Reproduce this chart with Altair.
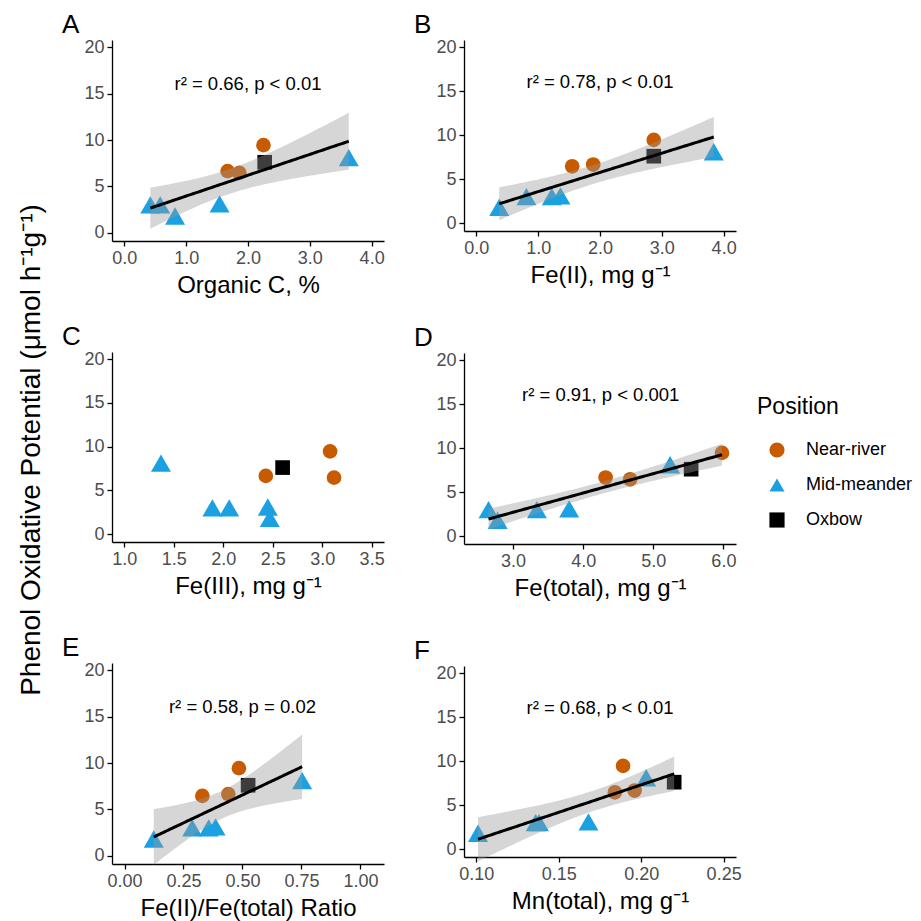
import altair as alt
import numpy as np
import pandas as pd

FONT = "Liberation Sans"

# ---- data ----
positions = ["Near-river", "Near-river", "Near-river",
             "Mid-meander", "Mid-meander", "Mid-meander", "Mid-meander", "Mid-meander",
             "Oxbow"]
pop = [9.45, 6.65, 6.45, 8.1, 3.0, 3.0, 3.1, 1.8, 7.6]

organic_c = [2.25, 1.67, 1.86, 3.63, 0.42, 0.58, 1.54, 0.82, 2.27]
fe2 = [2.87, 1.89, 1.55, 3.84, 0.81, 1.22, 1.36, 0.37, 2.87]
fe3 = [3.08, 2.43, 3.12, 1.37, 1.89, 2.06, 2.45, 2.47, 2.60]
fe_total = [5.98, 4.32, 4.67, 5.24, 2.65, 3.34, 3.80, 2.78, 5.54]
fe_ratio = [0.485, 0.44, 0.33, 0.753, 0.287, 0.357, 0.386, 0.124, 0.524]
mn_total = [0.189, 0.196, 0.184, 0.203, 0.136, 0.138, 0.168, 0.101, 0.220]

position_levels = ["Near-river", "Mid-meander", "Oxbow"]
position_colors = ["#C85A00", "#1BA1E2", "#000000"]
position_shapes = ["circle", "triangle-up", "square"]
position_sizes = [215, 400, 215]

y_ticks = [0, 5, 10, 15, 20]
y_domain = [-0.9, 20.8]

panels = [
    dict(letter="A", x=organic_c, title="Organic C, %", domain=[-0.2, 4.2],
         ticks=[0, 1, 2, 3, 4], fmt=".1f", label_x=2.0,
         label="r² = 0.66, p < 0.01", fit=True, height=201),
    dict(letter="B", x=fe2, title="Fe(II), mg g⁻¹", domain=[-0.2, 4.2],
         ticks=[0, 1, 2, 3, 4], fmt=".1f", label_x=2.0,
         label="r² = 0.78, p < 0.01", fit=True, height=191),
    dict(letter="C", x=fe3, title="Fe(III), mg g⁻¹", domain=[0.875, 3.625],
         ticks=[1.0, 1.5, 2.0, 2.5, 3.0, 3.5], fmt=".1f", label_x=None,
         label=None, fit=False, height=190),
    dict(letter="D", x=fe_total, title="Fe(total), mg g⁻¹", domain=[2.3, 6.18],
         ticks=[3, 4, 5, 6], fmt=".1f", label_x=4.25,
         label="r² = 0.91, p < 0.001", fit=True, height=191),
    dict(letter="E", x=fe_ratio, title="Fe(II)/Fe(total) Ratio", domain=[-0.053, 1.1],
         ticks=[0, 0.25, 0.5, 0.75, 1.0], fmt=".2f", label_x=0.5,
         label="r² = 0.58, p = 0.02", fit=True, height=201),
    dict(letter="F", x=mn_total, title="Mn(total), mg g⁻¹", domain=[0.0925, 0.2575],
         ticks=[0.10, 0.15, 0.20, 0.25], fmt=".2f", label_x=0.175,
         label="r² = 0.68, p < 0.01", fit=True, height=191),
]

T_CRIT = 2.364624  # t(0.975, df=7)


def lm_band(x, y):
    x = np.asarray(x, float)
    y = np.asarray(y, float)
    n = len(x)
    b1, b0 = np.polyfit(x, y, 1)
    resid = y - (b0 + b1 * x)
    s = np.sqrt(np.sum(resid ** 2) / (n - 2))
    xm = x.mean()
    sxx = np.sum((x - xm) ** 2)
    xs = np.linspace(x.min(), x.max(), 80)
    yh = b0 + b1 * xs
    se = s * np.sqrt(1.0 / n + (xs - xm) ** 2 / sxx)
    return pd.DataFrame({"x": xs, "fit": yh, "lo": yh - T_CRIT * se, "hi": yh + T_CRIT * se})


def make_panel(p):
    df = pd.DataFrame({"x": p["x"], "pop": pop, "Position": positions})
    xscale = alt.Scale(domain=p["domain"], nice=False, zero=False)
    yscale = alt.Scale(domain=y_domain, nice=False, zero=False)
    xaxis = alt.Axis(values=p["ticks"], format=p["fmt"], title=p["title"])
    yaxis = alt.Axis(values=y_ticks, format="d")

    layers = []
    for lvl, sz in zip(position_levels, position_sizes):
        pts = alt.Chart(df).transform_filter(
            alt.datum.Position == lvl
        ).mark_point(filled=True, opacity=1, strokeWidth=0, size=sz).encode(
            x=alt.X("x:Q", scale=xscale, axis=xaxis),
            y=alt.Y("pop:Q", scale=yscale, axis=yaxis, title=None),
            color=alt.Color("Position:N",
                            scale=alt.Scale(domain=position_levels, range=position_colors),
                            legend=alt.Legend(title="Position")),
            shape=alt.Shape("Position:N",
                            scale=alt.Scale(domain=position_levels, range=position_shapes),
                            legend=alt.Legend(title="Position")),
        )
        layers.append(pts)
    if p["fit"]:
        band_df = lm_band(p["x"], pop)
        band = alt.Chart(band_df).mark_area(color="#999999", opacity=0.4).encode(
            x=alt.X("x:Q", scale=xscale), y=alt.Y("lo:Q", scale=yscale), y2="hi:Q")
        line = alt.Chart(band_df).mark_line(color="black", strokeWidth=3).encode(
            x=alt.X("x:Q", scale=xscale), y=alt.Y("fit:Q", scale=yscale))
        layers += [band, line]
    if p["label"]:
        lab_df = pd.DataFrame({"x": [p["label_x"]], "y": [16], "t": [p["label"]]})
        txt = alt.Chart(lab_df).mark_text(font=FONT, fontSize=18.5, color="black",
                                           baseline="middle", align="center").encode(
            x=alt.X("x:Q", scale=xscale), y=alt.Y("y:Q", scale=yscale), text="t:N")
        layers.append(txt)
    return alt.layer(*layers).properties(
        width=272, height=p["height"],
        title=alt.TitleParams(p["letter"], anchor="start", frame="group", dx=-50,
                              fontSize=26, font=FONT, fontWeight="normal",
                              color="black", offset=0),
    )


pA, pB, pC, pD, pE, pF = [make_panel(p) for p in panels]

left = alt.vconcat(alt.vconcat(pA, pC, spacing=27), pE, spacing=37)
right = alt.vconcat(pB, pD, pF, spacing=38)

chart = alt.hconcat(left, right, spacing=29).properties(
    title=alt.TitleParams("Phenol Oxidative Potential (μmol h⁻¹g⁻¹)", orient="left",
                          anchor="middle", fontSize=28, font=FONT,
                          fontWeight="normal", color="black", offset=16, dx=16),
    padding={"left": 9, "top": 4, "right": 0, "bottom": 2},
).configure_view(strokeWidth=0).configure_axis(
    grid=False, domainColor="black", domainWidth=1.3, tickColor="black",
    tickWidth=1.3, tickSize=5, labelFont=FONT, labelFontSize=18,
    labelColor="#4D4D4D", labelPadding=3, titleFont=FONT, titleFontSize=24,
    titleFontWeight="normal", titleColor="black", titlePadding=6,
).configure_legend(
    orient="none", legendX=645, legendY=356, titleFont=FONT, titleFontSize=23,
    titleFontWeight="normal", titleColor="black", labelFont=FONT, labelFontSize=18,
    labelColor="black", symbolSize=230, symbolStrokeWidth=0, rowPadding=17,
    titlePadding=22, symbolOffset=11, labelOffset=20,
)

chart.save("out.html", embed_options={"renderer": "svg", "actions": False})
